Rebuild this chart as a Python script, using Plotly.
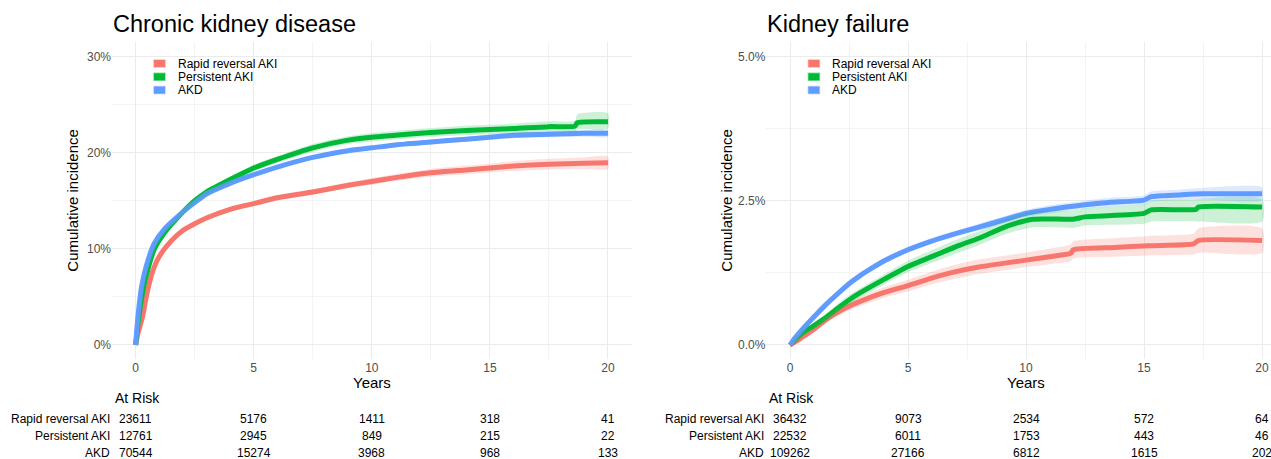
import plotly.graph_objects as go

W, H = 1271, 459

# ---- series names and colours ----
groups = ["Rapid reversal AKI", "Persistent AKI", "AKD"]
colors = ["#F8766D", "#00BA38", "#619CFF"]
fills = ["rgba(248,118,109,0.22)", "rgba(0,186,56,0.20)", "rgba(97,156,255,0.22)"]
key_edges = ["rgba(248,118,109,0.45)", "rgba(0,186,56,0.45)", "rgba(97,156,255,0.45)"]

# ---- Chronic kidney disease: cumulative incidence (%) ----
ckd_rapid_t = [0, 0.1, 0.3, 0.45, 0.7, 1.0, 1.5, 2.0, 2.5, 3.0, 4.0, 5.0, 6.0, 7.5, 9, 10, 11, 12.5, 14, 15, 16, 17.5, 19, 20]
ckd_rapid = [0, 1.2, 3.0, 5.0, 7.5, 9.2, 10.8, 11.9, 12.6, 13.2, 14.1, 14.7, 15.3, 15.9, 16.6, 17.0, 17.4, 17.9, 18.2, 18.4, 18.6, 18.8, 18.9, 18.95]
ckd_rapid_lo = [0, 1.1, 2.9, 4.85, 7.35, 9.05, 10.6, 11.7, 12.4, 13.0, 13.85, 14.45, 15.05, 15.6, 16.3, 16.65, 17.05, 17.5, 17.75, 17.95, 18.1, 18.25, 18.3, 18.3]
ckd_rapid_hi = [0, 1.3, 3.1, 5.15, 7.65, 9.35, 11.0, 12.1, 12.8, 13.4, 14.35, 14.95, 15.55, 16.2, 16.9, 17.35, 17.75, 18.3, 18.65, 18.85, 19.1, 19.35, 19.5, 19.6]

ckd_pers_t = [0, 0.1, 0.25, 0.45, 0.8, 1.2, 1.8, 2.5, 3.0, 4.0, 5.0, 6.0, 7.5, 9, 10, 11, 12.5, 14, 15, 16, 17.5, 18.6, 18.7, 20]
ckd_pers = [0, 2.2, 4.8, 7.2, 10.0, 11.6, 13.3, 15.0, 15.9, 17.2, 18.4, 19.3, 20.5, 21.3, 21.6, 21.8, 22.1, 22.3, 22.4, 22.5, 22.7, 22.75, 23.1, 23.2]
ckd_pers_lo = [0, 2.05, 4.65, 7.0, 9.8, 11.4, 13.05, 14.75, 15.6, 16.9, 18.05, 18.95, 20.1, 20.9, 21.15, 21.35, 21.65, 21.8, 21.9, 22.0, 22.15, 22.2, 22.4, 22.5]
ckd_pers_hi = [0, 2.35, 4.95, 7.4, 10.2, 11.8, 13.55, 15.25, 16.2, 17.5, 18.75, 19.65, 20.9, 21.7, 22.05, 22.25, 22.55, 22.8, 22.9, 23.0, 23.25, 23.3, 24.0, 24.1]

ckd_akd_t = [0, 0.1, 0.25, 0.45, 0.8, 1.2, 1.8, 2.5, 3.0, 4.0, 5.0, 6.0, 7.5, 9, 10, 11, 12.5, 14, 15, 16, 17.5, 19, 20]
ckd_akd = [0, 3.0, 6.0, 8.2, 10.6, 12.0, 13.4, 14.8, 15.7, 16.8, 17.7, 18.5, 19.5, 20.2, 20.5, 20.8, 21.1, 21.4, 21.6, 21.8, 21.9, 22.0, 22.0]
ckd_akd_lo = [0, 2.9, 5.9, 8.1, 10.5, 11.9, 13.3, 14.7, 15.55, 16.65, 17.55, 18.35, 19.3, 20.0, 20.3, 20.6, 20.85, 21.15, 21.35, 21.5, 21.6, 21.65, 21.65]
ckd_akd_hi = [0, 3.1, 6.1, 8.3, 10.7, 12.1, 13.5, 14.9, 15.85, 16.95, 17.85, 18.65, 19.7, 20.4, 20.7, 21.0, 21.35, 21.65, 21.85, 22.1, 22.2, 22.35, 22.35]

# ---- Kidney failure: cumulative incidence (%) ----
kf_rapid_t = [0, 0.25, 0.5, 1.0, 1.5, 2.0, 2.5, 3.0, 4.0, 5.0, 6.0, 6.8, 8.0, 10.0, 11.0, 11.9, 12.0, 13.75, 15.2, 17.1, 17.3, 20]
kf_rapid = [0, 0.06, 0.13, 0.27, 0.43, 0.56, 0.67, 0.76, 0.91, 1.03, 1.16, 1.25, 1.35, 1.47, 1.53, 1.59, 1.65, 1.69, 1.72, 1.75, 1.81, 1.81]
kf_rapid_lo = [0, 0.04, 0.1, 0.23, 0.38, 0.5, 0.6, 0.68, 0.82, 0.93, 1.05, 1.13, 1.23, 1.35, 1.4, 1.45, 1.5, 1.53, 1.55, 1.57, 1.6, 1.6]
kf_rapid_hi = [0, 0.08, 0.16, 0.31, 0.48, 0.62, 0.74, 0.84, 1.0, 1.13, 1.27, 1.37, 1.48, 1.6, 1.67, 1.74, 1.8, 1.85, 1.89, 1.93, 2.02, 2.02]

kf_pers_t = [0, 0.25, 0.5, 1.0, 1.5, 2.0, 2.5, 3.0, 4.0, 5.0, 6.0, 7.2, 8.0, 9.2, 10.3, 12.0, 12.5, 15.0, 15.3, 17.2, 17.3, 20]
kf_pers = [0, 0.1, 0.2, 0.33, 0.47, 0.63, 0.78, 0.91, 1.14, 1.36, 1.53, 1.73, 1.85, 2.06, 2.18, 2.18, 2.22, 2.28, 2.34, 2.35, 2.39, 2.39]
kf_pers_lo = [0, 0.07, 0.16, 0.28, 0.41, 0.56, 0.7, 0.83, 1.05, 1.26, 1.42, 1.61, 1.73, 1.93, 2.04, 2.03, 2.07, 2.1, 2.14, 2.14, 2.14, 2.14]
kf_pers_hi = [0, 0.13, 0.24, 0.38, 0.53, 0.7, 0.86, 0.99, 1.23, 1.46, 1.64, 1.85, 1.97, 2.19, 2.32, 2.33, 2.37, 2.44, 2.5, 2.52, 2.53, 2.53]

kf_akd_t = [0, 0.25, 0.5, 1.0, 1.5, 2.0, 2.5, 3.0, 3.5, 4.0, 5.0, 6.0, 7.2, 8.5, 10, 11, 12.5, 13.5, 15, 15.3, 16.5, 17.5, 20]
kf_akd = [0, 0.14, 0.26, 0.48, 0.69, 0.88, 1.06, 1.21, 1.34, 1.46, 1.65, 1.80, 1.95, 2.10, 2.28, 2.35, 2.43, 2.47, 2.51, 2.57, 2.60, 2.62, 2.62]
kf_akd_lo = [0, 0.12, 0.23, 0.45, 0.65, 0.84, 1.02, 1.17, 1.29, 1.41, 1.6, 1.75, 1.9, 2.04, 2.22, 2.28, 2.36, 2.39, 2.43, 2.48, 2.51, 2.52, 2.51]
kf_akd_hi = [0, 0.16, 0.29, 0.51, 0.73, 0.92, 1.1, 1.25, 1.39, 1.51, 1.7, 1.85, 2.0, 2.16, 2.34, 2.42, 2.5, 2.55, 2.59, 2.66, 2.69, 2.72, 2.73]

# ---- numbers at risk ----
risk_times = [0, 5, 10, 15, 20]
ckd_risk = {
    "Rapid reversal AKI": [23611, 5176, 1411, 318, 41],
    "Persistent AKI": [12761, 2945, 849, 215, 22],
    "AKD": [70544, 15274, 3968, 968, 133],
}
kf_risk = {
    "Rapid reversal AKI": [36432, 9073, 2534, 572, 64],
    "Persistent AKI": [22532, 6011, 1753, 443, 46],
    "AKD": [109262, 27166, 6812, 1615, 202],
}

ckd_series = [
    (ckd_rapid_t, ckd_rapid, ckd_rapid_lo, ckd_rapid_hi),
    (ckd_pers_t, ckd_pers, ckd_pers_lo, ckd_pers_hi),
    (ckd_akd_t, ckd_akd, ckd_akd_lo, ckd_akd_hi),
]
kf_series = [
    (kf_rapid_t, kf_rapid, kf_rapid_lo, kf_rapid_hi),
    (kf_pers_t, kf_pers, kf_pers_lo, kf_pers_hi),
    (kf_akd_t, kf_akd, kf_akd_lo, kf_akd_hi),
]

FONT = "Liberation Sans, Arial, sans-serif"
GRID = "#EBEBEB"
MINOR = "#F3F3F3"
TICK = "#4D4D4D"


def px(x):
    return x / W


def py(y):
    return 1 - y / H


fig = go.Figure()


def add_panel(series, xa, ya):
    # curves first, confidence ribbons drawn over them
    for (t, v, lo, hi), c in zip(series, colors):
        fig.add_trace(go.Scatter(x=t, y=v, mode="lines", xaxis=xa, yaxis=ya,
                                 line=dict(color=c, width=5, shape="spline", smoothing=0.6),
                                 showlegend=False, hoverinfo="skip"))
    for (t, v, lo, hi), f in zip(series, fills):
        fig.add_trace(go.Scatter(x=list(t) + list(t)[::-1], y=list(hi) + list(lo)[::-1],
                                 mode="lines", fill="toself", fillcolor=f,
                                 line=dict(width=0, shape="spline", smoothing=0.6),
                                 xaxis=xa, yaxis=ya, showlegend=False, hoverinfo="skip"))


add_panel(ckd_series, "x", "y")
add_panel(kf_series, "x2", "y2")

ydom = [py(359.4), py(42)]
left_dom = [px(112), px(631.6)]
right_dom = [px(766.4), 1.0]

xcommon = dict(tick0=0, dtick=5, showgrid=True, gridcolor=GRID, gridwidth=1.1,
               zeroline=False, showline=False, ticks="",
               tickfont=dict(family=FONT, size=12, color=TICK),
               minor=dict(dtick=2.5, showgrid=True, gridcolor=MINOR, gridwidth=0.6))
ycommon = dict(showgrid=True, gridcolor=GRID, gridwidth=1.1, zeroline=False,
               showline=False, ticks="",
               tickfont=dict(family=FONT, size=12, color=TICK))

fig.update_layout(
    width=W, height=H, margin=dict(l=0, r=0, t=0, b=0),
    paper_bgcolor="white", plot_bgcolor="white", showlegend=False,
    xaxis=dict(domain=left_dom, range=[-1, 21], anchor="y", **xcommon),
    yaxis=dict(domain=ydom, range=[-1.5, 31.5], tickvals=[0, 10, 20, 30],
               ticktext=["0%", "10%", "20%", "30%"], anchor="x",
               minor=dict(tickvals=[5, 15, 25], showgrid=True, gridcolor=MINOR, gridwidth=0.6),
               **ycommon),
    xaxis2=dict(domain=right_dom, range=[-1, 20.38], anchor="y2", **xcommon),
    yaxis2=dict(domain=ydom, range=[-0.25, 5.25], tickvals=[0, 2.5, 5],
                ticktext=["0.0%", "2.5%", "5.0%"], anchor="x2",
                minor=dict(tickvals=[1.25, 3.75], showgrid=True, gridcolor=MINOR, gridwidth=0.6),
                **ycommon),
)

ann = []
shapes = []


def text(x, y, s, size, color="black", xanchor="left", xref="paper", angle=0):
    ann.append(dict(x=x, y=py(y), xref=xref, yref="paper", text=s, showarrow=False,
                    xanchor=xanchor, yanchor="middle", textangle=angle,
                    font=dict(family=FONT, size=size, color=color)))


panels = [
    ("Chronic kidney disease", 112, 371.8, 73, 111.5, "x", ckd_risk),
    ("Kidney failure", 766.4, 1026, 727, 766, "x2", kf_risk),
]
for title, left, xmid, ytx, lab_r, xref, risk in panels:
    text(px(left - 1), 24, title, 23.5)
    text(px(xmid), 382, "Years", 15, xanchor="center")
    text(px(ytx), 200.7, "Cumulative incidence", 15, xanchor="center", angle=-90)
    text(px(left + 1), 398, "At Risk", 14)
    # legend keys
    for i, (g, c) in enumerate(zip(groups, colors)):
        yc = 63.5 + i * 13.3
        shapes.append(dict(type="rect", xref="paper", yref="paper",
                           x0=px(left + 42), x1=px(left + 53), y0=py(yc + 3.5), y1=py(yc - 3.5),
                           fillcolor=c, line=dict(width=1.5, color=key_edges[i])))
        text(px(left + 64), yc, g, 12)
    # risk table
    for i, g in enumerate(groups):
        yr = 419 + i * 16.8
        text(px(lab_r), yr, g, 12, xanchor="right")
        for t, n in zip(risk_times, risk[g]):
            text(t, yr, str(n), 12, xanchor="center", xref=xref)

fig.update_layout(annotations=ann, shapes=shapes)
fig.write_html("out.html")
